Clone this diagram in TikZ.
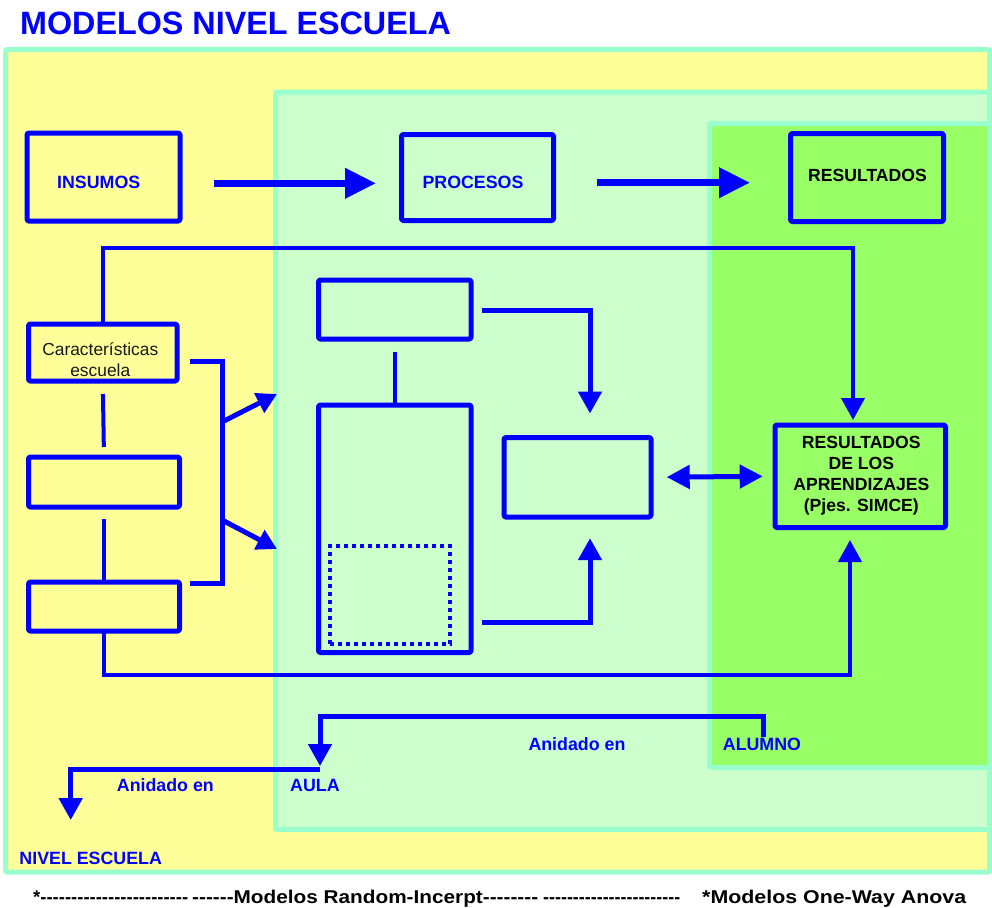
\documentclass[tikz,border=0pt]{standalone}
\usepackage{fontspec}
\setmainfont{Liberation Sans}
\newfontfamily\footfont{Liberation Sans}[Ligatures=TeXOff]
\usetikzlibrary{arrows.meta}

\definecolor{edgeaqua}{HTML}{99FFCC}
\definecolor{paleyellow}{HTML}{FFFF99}
\definecolor{palegreen}{HTML}{CCFFCC}
\definecolor{brightgreen}{HTML}{99FF66}
\definecolor{pureblue}{HTML}{0000FF}

\begin{document}
\begin{tikzpicture}[x=1pt,y=-1pt,
  region/.style={draw=edgeaqua, line width=5pt, rounded corners=2pt},
  box/.style={draw=pureblue, line width=5pt, rounded corners=1.5pt,
    inner sep=0pt, outer sep=0pt, line join=round},
  dotbox/.style={draw=pureblue, line width=4pt, dash pattern=on 4pt off 4pt,
    inner sep=0pt, outer sep=0pt},
  link/.style={draw=pureblue, line width=4pt},
  flow/.style={draw=pureblue, line width=5pt},
  bigflow/.style={draw=pureblue, line width=7pt,
    -{Triangle[length=31pt,width=29pt]}},
  tip/.style={-{Triangle[length=22pt,width=23pt]}},
  slanttip/.style={-{Triangle[length=20pt,width=21pt]}},
  bluelbl/.style={text=pureblue, font=\fontsize{17.8}{21}\selectfont\bfseries,
    inner sep=0pt},
  blacklbl/.style={text=black, font=\fontsize{17.6}{21}\selectfont\bfseries,
    inner sep=0pt, align=center},
  plainlbl/.style={text=black!90, font=\fontsize{17.4}{21}\selectfont,
    inner sep=0pt, align=center}]

\useasboundingbox (0,0) rectangle (992,907);

% nested levels: school, classroom, student
\filldraw[region, fill=paleyellow] (5.5,49.5) rectangle (989.5,872);
\filldraw[region, fill=palegreen] (275.5,92) rectangle (989.5,829.5);
\filldraw[region, fill=brightgreen] (709.5,123.5) rectangle (989.5,767.5);

% title
\node[anchor=base west, text=pureblue, inner sep=0pt,
  font=\fontsize{32.3}{36}\selectfont\bfseries] (title) at (20,35)
  {MODELOS NIVEL ESCUELA};

% top row
\node[box, minimum width=153pt, minimum height=88pt] (ins) at (103.5,177) {};
\node[bluelbl, anchor=base] (insT) at (98.7,188.3) {INSUMOS};
\node[box, minimum width=152pt, minimum height=86pt] (proc) at (477.5,177.5) {};
\node[bluelbl, anchor=base] (procT) at (473,188.3) {PROCESOS};
\node[box, minimum width=153pt, minimum height=88pt] (res) at (867,177.5) {};
\node[blacklbl, anchor=base] (resT) at (867.5,181.7) {RESULTADOS};

\coordinate (a1s) at (214,183.3);
\coordinate (a1e) at (376,183.3);
\coordinate (a2s) at (597,182.7);
\coordinate (a2e) at (750,182.7);
\draw[bigflow] (a1s) -- (a1e);
\draw[bigflow] (a2s) -- (a2e);

% school-level column
\node[box, minimum width=148.5pt, minimum height=57pt] (car) at (102.75,352.5) {};
\node[plainlbl] (carT) at (100.3,359.5) {Características\\escuela};
\node[box, minimum width=151pt, minimum height=50pt] (sb2) at (104,482) {};
\node[box, minimum width=151pt, minimum height=49pt] (sb3) at (104,606.5) {};

\draw[link, shorten <=13pt, shorten >=10pt] (car.south) -- (sb2.north);
\draw[link, shorten <=12pt] (sb2.south) -- (sb3.north);

% bracket gathering the school column
\coordinate (brA) at (190,361.7);
\coordinate (brB) at (222,361.7);
\coordinate (brC) at (222,583.3);
\coordinate (brD) at (190,583.3);
\draw[flow, line join=miter] (brA) -- (brB) -- (brC) -- (brD);
\coordinate (dgA) at (224,421);
\coordinate (dgB) at (277,394);
\coordinate (dgC) at (224,521);
\coordinate (dgD) at (277,549);
\draw[flow, slanttip] (dgA) -- (dgB);
\draw[flow, slanttip] (dgC) -- (dgD);

% classroom column
\node[box, minimum width=152.5pt, minimum height=59pt] (cl1) at (394.75,309.5) {};
\node[box, minimum width=152.5pt, minimum height=247.5pt] (cl2) at (394.75,528.75) {};
\node[dotbox, minimum width=120pt, minimum height=98pt] (cl3) at (390,595) {};
\draw[link, shorten <=12.7pt] (cl1.south) -- (cl2.north);

\node[box, minimum width=147pt, minimum height=79.5pt] (mid) at (577.5,477.25) {};
\coordinate (r1s) at (481.7,310.7);
\coordinate (r1c) at (590,310.7);
\coordinate (r2s) at (481.7,622.7);
\coordinate (r2c) at (590,622.7);
\draw[flow, tip, line join=miter, shorten >=24pt] (r1s) -- (r1c) -- (r1c |- mid.north);
\draw[flow, tip, line join=miter, shorten >=21.2pt] (r2s) -- (r2c) -- (r2c |- mid.south);

% learning outcomes
\node[box, minimum width=170.5pt, minimum height=102.5pt] (resA) at (860.25,476.25) {};
\node[blacklbl] (resAT) at (861.3,475.8)
  {RESULTADOS\\DE LOS\\APRENDIZAJES\\(Pjes. SIMCE)};

\draw[flow, {Triangle[length=23pt,width=23pt]}-{Triangle[length=23pt,width=23pt]},
  shorten <=15.7pt, shorten >=12.3pt] (mid.east) -- (resA.west);

% long connectors from the school column
\coordinate (topR) at (853,248);
\coordinate (botR) at (850,675);
\draw[link, tip, line join=miter, shorten >=5pt] (car.north) |- (topR) -- (topR |- resA.north);
\draw[link, tip, line join=miter, shorten >=12.5pt] (sb3.south) |- (botR) -- (botR |- resA.south);

% nesting arrows
\coordinate (nA) at (763.3,736.7);
\coordinate (nB) at (320,716.7);
\coordinate (nC) at (320,766);
\coordinate (nD) at (320,769);
\coordinate (nE) at (70.7,769);
\coordinate (nF) at (70.7,820);
\draw[flow, tip, line join=miter] (nA) |- (nB) -- (nC);
\draw[flow, tip, line join=miter] (nD) -- (nE) -- (nF);

\node[bluelbl, anchor=base west] (anidA) at (528.3,750.7) {Anidado en};
\node[bluelbl, anchor=base west] (alum) at (722.7,750.7) {ALUMNO};
\node[bluelbl, anchor=base west] (anidB) at (116.7,791.7) {Anidado en};
\node[bluelbl, anchor=base west] (aula) at (290,791.7) {AULA};
\node[bluelbl, anchor=base west] (nivel) at (19.3,864) {NIVEL ESCUELA};

% footer line
\node[anchor=base west, inner sep=0pt, text=black,
  font=\footfont\fontsize{18.5}{21}\selectfont\bfseries] (foot) at (33,903.5)
  {\resizebox{155pt}{\height}{*------------------------}\hspace{4pt}%
   \resizebox{346pt}{\height}{------Modelos Random-Incerpt--------}\hspace{5pt}%
   \resizebox{137pt}{\height}{-----------------------}\hspace{22pt}%
   \resizebox{264pt}{\height}{*Modelos One-Way Anova}};

\end{tikzpicture}
\end{document}
